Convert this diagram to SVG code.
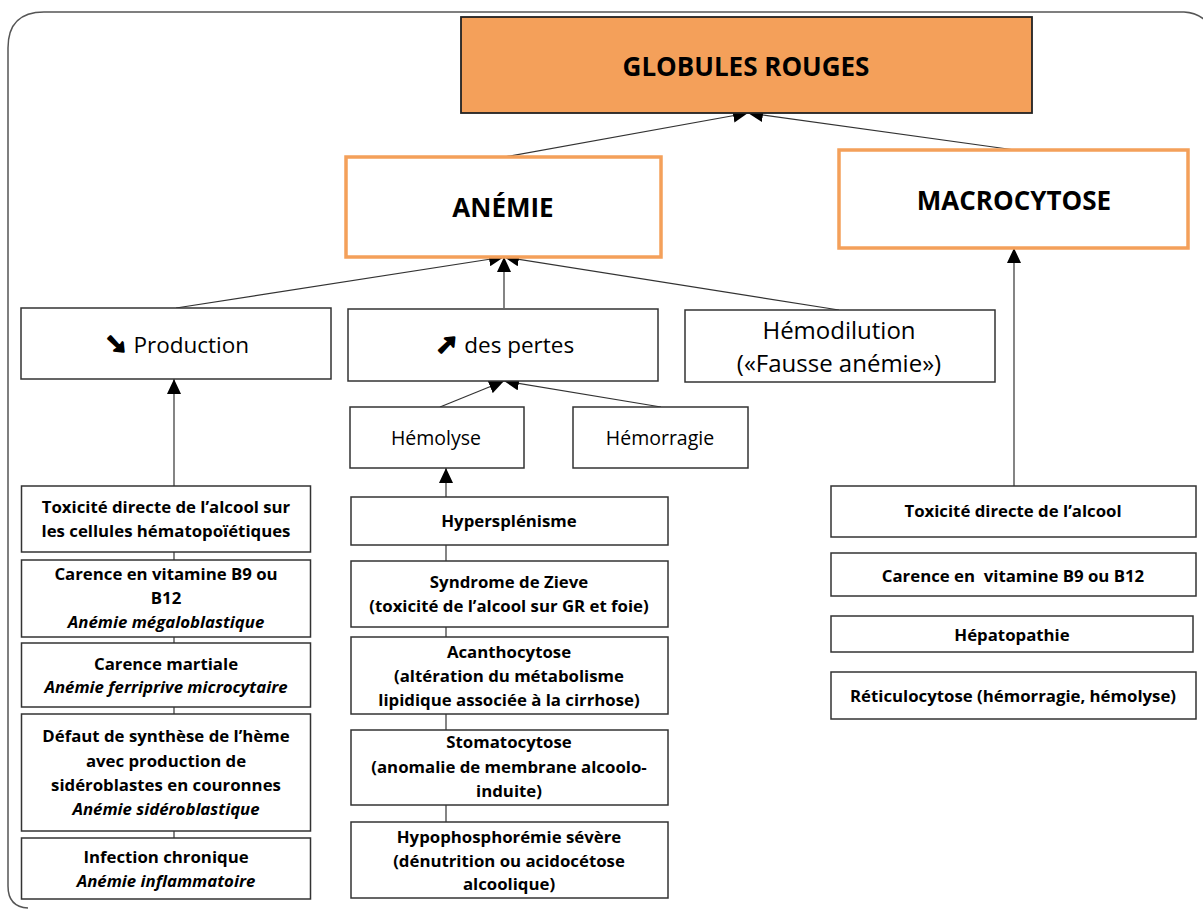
<svg xmlns="http://www.w3.org/2000/svg" width="1203" height="909" viewBox="0 0 1203 909">
<style>
.t{font-family:'Open Sans','DejaVu Sans',sans-serif;fill:#000;text-anchor:middle}
.b{font-weight:700}
.i{font-style:italic;font-weight:700}
.box{fill:#fff;stroke:#333;stroke-width:1.5}
.obox{fill:#fff;stroke:#F4A05A;stroke-width:3.5}
.c{fill:none;stroke:#333;stroke-width:1.2}
.ar{font-family:'DejaVu Sans',sans-serif;font-weight:700;stroke:#000;stroke-width:2.5;stroke-linejoin:round}
</style>
<defs>
<marker id="ah" markerUnits="userSpaceOnUse" markerWidth="16" markerHeight="14" viewBox="0 0 16 14" refX="15" refY="7" orient="auto">
<path d="M0,0 L15,7 L0,14 z" fill="#000"/>
</marker>
</defs>
<rect width="1203" height="909" fill="#fff"/>
<path d="M8,886 L8,48 Q8,12 44,12 L1184,12 Q1202,13 1212,28" fill="none" stroke="#555" stroke-width="1.5"/>
<path d="M8,886 Q8,907 28,908" fill="none" stroke="#555" stroke-width="1.5"/>

<g id="connectors">
<line class="c" x1="504" y1="157" x2="748" y2="113" marker-end="url(#ah)"/>
<line class="c" x1="1015" y1="150" x2="748" y2="113" marker-end="url(#ah)"/>
<line class="c" x1="176" y1="308" x2="504" y2="257" marker-end="url(#ah)"/>
<line class="c" x1="504" y1="308" x2="504" y2="257" marker-end="url(#ah)"/>
<line class="c" x1="839" y1="310" x2="504" y2="257" marker-end="url(#ah)"/>
<line class="c" x1="1014" y1="486" x2="1014" y2="248" marker-end="url(#ah)"/>
<line class="c" x1="440" y1="407" x2="504" y2="381" marker-end="url(#ah)"/>
<line class="c" x1="661" y1="407" x2="504" y2="381" marker-end="url(#ah)"/>
<line class="c" x1="446" y1="497" x2="446" y2="468" marker-end="url(#ah)"/>
<line class="c" x1="174" y1="486" x2="174" y2="379" marker-end="url(#ah)"/>
<line class="c" x1="174" y1="486" x2="174" y2="840"/>
<line class="c" x1="446" y1="545" x2="446" y2="822"/>
</g>

<g id="globules-rouges">
<rect x="461" y="17" width="571" height="96" fill="#F4A05A" stroke="#222" stroke-width="1.8"/>
<text class="t b" x="746" y="76" font-size="26">GLOBULES ROUGES</text>
</g>
<g id="anemie">
<rect class="obox" x="346" y="157" width="315" height="100"/>
<text class="t b" x="503" y="217" font-size="26">ANÉMIE</text>
</g>
<g id="macrocytose">
<rect class="obox" x="839" y="150" width="349" height="98"/>
<text class="t b" x="1014" y="210" font-size="26">MACROCYTOSE</text>
</g>

<g id="production">
<rect class="box" x="21" y="308" width="310" height="71"/>
<text class="t" x="177" y="353" font-size="22.5"><tspan class="ar" font-size="27">➘</tspan> Production</text>
</g>
<g id="pertes">
<rect class="box" x="348" y="309" width="310" height="72"/>
<text class="t" x="505" y="353" font-size="22.5"><tspan class="ar" font-size="27">➚</tspan> des pertes</text>
</g>
<g id="hemodilution">
<rect class="box" x="685" y="310" width="310" height="72"/>
<text class="t" x="839" y="339" font-size="24">Hémodilution</text>
<text class="t" x="839" y="372" font-size="24">(«Fausse anémie»)</text>
</g>
<g id="hemolyse">
<rect class="box" x="350" y="407" width="174" height="61"/>
<text class="t" x="436" y="445" font-size="19.5">Hémolyse</text>
</g>
<g id="hemorragie">
<rect class="box" x="573" y="407" width="175" height="61"/>
<text class="t" x="660" y="445" font-size="19.5">Hémorragie</text>
</g>

<g id="toxicite-prod">
<rect class="box" x="21.5" y="486" width="289" height="66"/>
<text class="t b" x="166" y="513" font-size="16.8">Toxicité directe de l’alcool sur</text>
<text class="t b" x="166" y="537" font-size="16.8">les cellules hématopoïétiques</text>
</g>
<g id="carence-b9">
<rect class="box" x="21.5" y="560" width="289" height="77"/>
<text class="t b" x="166" y="580" font-size="16.8">Carence en vitamine B9 ou</text>
<text class="t b" x="166" y="604" font-size="16.8">B12</text>
<text class="t i" x="166" y="628" font-size="16.8">Anémie mégaloblastique</text>
</g>
<g id="carence-martiale">
<rect class="box" x="21.5" y="643" width="289" height="64"/>
<text class="t b" x="166" y="670" font-size="16.8">Carence martiale</text>
<text class="t i" x="166" y="693" font-size="16.8">Anémie ferriprive microcytaire</text>
</g>
<g id="defaut-heme">
<rect class="box" x="21.5" y="714" width="289" height="117"/>
<text class="t b" x="166" y="742" font-size="16.8">Défaut de synthèse de l’hème</text>
<text class="t b" x="166" y="767" font-size="16.8">avec production de</text>
<text class="t b" x="166" y="791" font-size="16.8">sidéroblastes en couronnes</text>
<text class="t i" x="166" y="815" font-size="16.8">Anémie sidéroblastique</text>
</g>
<g id="infection">
<rect class="box" x="21.5" y="838" width="289" height="61"/>
<text class="t b" x="166" y="863" font-size="16.8">Infection chronique</text>
<text class="t i" x="166" y="887" font-size="16.8">Anémie inflammatoire</text>
</g>

<g id="hypersplenisme">
<rect class="box" x="351" y="497" width="317" height="48"/>
<text class="t b" x="509" y="527" font-size="16.8">Hypersplénisme</text>
</g>
<g id="zieve">
<rect class="box" x="351" y="561" width="317" height="66"/>
<text class="t b" x="509" y="588" font-size="16.8">Syndrome de Zieve</text>
<text class="t b" x="509" y="612" font-size="16.8">(toxicité de l’alcool sur GR et foie)</text>
</g>
<g id="acanthocytose">
<rect class="box" x="351" y="637" width="317" height="77"/>
<text class="t b" x="509" y="658" font-size="16.8">Acanthocytose</text>
<text class="t b" x="509" y="682" font-size="16.8">(altération du métabolisme</text>
<text class="t b" x="509" y="706" font-size="16.8">lipidique associée à la cirrhose)</text>
</g>
<g id="stomatocytose">
<rect class="box" x="351" y="730" width="317" height="75"/>
<text class="t b" x="509" y="748" font-size="16.8">Stomatocytose</text>
<text class="t b" x="509" y="773" font-size="16.8">(anomalie de membrane alcoolo-</text>
<text class="t b" x="509" y="797" font-size="16.8">induite)</text>
</g>
<g id="hypophosphoremie">
<rect class="box" x="351" y="822" width="317" height="76"/>
<text class="t b" x="509" y="843" font-size="16.8">Hypophosphorémie sévère</text>
<text class="t b" x="509" y="867" font-size="16.8">(dénutrition ou acidocétose</text>
<text class="t b" x="509" y="890" font-size="16.8">alcoolique)</text>
</g>

<g id="toxicite-macro">
<rect class="box" x="831" y="486" width="365" height="51"/>
<text class="t b" x="1013" y="517" font-size="16.8">Toxicité directe de l’alcool</text>
</g>
<g id="carence-macro">
<rect class="box" x="831" y="553" width="365" height="43"/>
<text class="t b" x="1013" y="582" font-size="16.8" style="white-space:pre">Carence en  vitamine B9 ou B12</text>
</g>
<g id="hepatopathie">
<rect class="box" x="831" y="616" width="362" height="36"/>
<text class="t b" x="1012" y="641" font-size="16.8">Hépatopathie</text>
</g>
<g id="reticulocytose">
<rect class="box" x="831" y="672" width="365" height="47"/>
<text class="t b" x="1013" y="702" font-size="16.8">Réticulocytose (hémorragie, hémolyse)</text>
</g>
</svg>
